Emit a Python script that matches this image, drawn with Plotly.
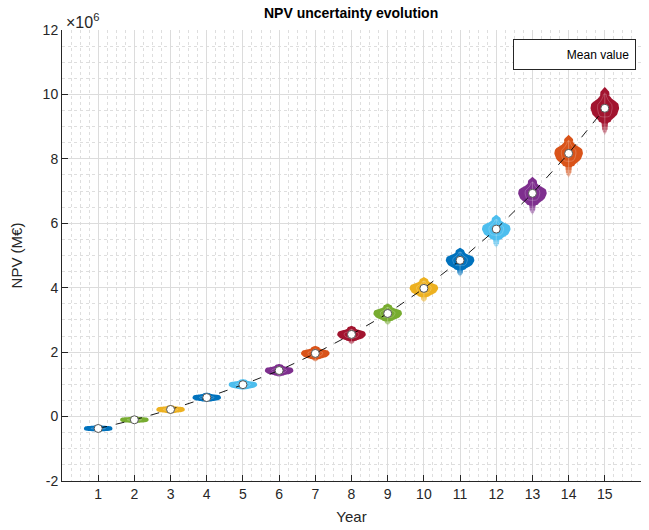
import numpy as np
import plotly.graph_objects as go

# ---- data (NPV in units of 1e6 €) ----
years = list(range(1, 16))
npv_mean = [-0.37, -0.10, 0.22, 0.59, 0.99, 1.43, 1.96, 2.55, 3.20, 3.98,
            4.85, 5.82, 6.93, 8.17, 9.57]
# upper and lower extent of each distribution, measured from the mean
spread_up = [0.05, 0.05, 0.07, 0.09, 0.11, 0.14, 0.17, 0.20, 0.24, 0.28,
             0.32, 0.37, 0.43, 0.49, 0.57]
spread_down = [0.06, 0.07, 0.10, 0.13, 0.17, 0.21, 0.26, 0.31, 0.37, 0.44,
               0.51, 0.59, 0.67, 0.76, 0.84]

# ---- styling ----
violin_colors = ['#0072BD', '#77AC30', '#EDB120', '#0072BD', '#4DBEEE',
                 '#7E2F8E', '#D95319', '#A2142F', '#77AC30', '#EDB120',
                 '#0072BD', '#4DBEEE', '#7E2F8E', '#D95319', '#A2142F']
HALF_WIDTH = 0.34
EDGE_PX = 4
# normalised violin outline: u = relative height (-1 bottom .. +1 top), f = relative half-width
PROF_U = [-1.00, -0.80, -0.55, -0.40, -0.20, 0.00, 0.20, 0.45, 0.65, 0.85, 1.00]
PROF_F = [0.00, 0.22, 0.25, 0.38, 0.85, 1.00, 0.95, 0.45, 0.22, 0.20, 0.00]
TAIL_START = -0.45
FONT = 'Liberation Sans, Arial, sans-serif'
TXT = '#262626'


def outline(u_lo, u_hi, x0, m, up, dn, n=40):
    u = np.linspace(u_lo, u_hi, n)
    f = np.interp(u, PROF_U, PROF_F)
    y = np.where(u >= 0, m + u * up, m + u * dn)
    xs = np.concatenate([x0 + HALF_WIDTH * f, (x0 - HALF_WIDTH * f)[::-1], [x0 + HALF_WIDTH * f[0]]])
    ys = np.concatenate([y, y[::-1], [y[0]]])
    return xs, ys


def hex_rgba(h, a):
    h = h.lstrip('#')
    return 'rgba(%d,%d,%d,%.3f)' % (int(h[0:2], 16), int(h[2:4], 16), int(h[4:6], 16), a)


fig = go.Figure()

for yr, m, up, dn, col in zip(years, npv_mean, spread_up, spread_down, violin_colors):
    # fading lower tail
    cuts = np.linspace(-1.0, TAIL_START, 6)
    for k in range(5):
        xs, ys = outline(cuts[k], cuts[k + 1] + 0.02, yr, m, up, dn, n=8)
        a = 0.12 + 0.88 * (k + 1) / 5
        fig.add_trace(go.Scatter(x=xs, y=ys, mode='lines', fill='toself',
                                 fillcolor=hex_rgba(col, a), line=dict(width=0),
                                 hoverinfo='skip', showlegend=False))
    # main body, with a thick same-colour edge that rounds it off
    xs, ys = outline(TAIL_START, 1.0, yr, m, up, dn)
    fig.add_trace(go.Scatter(x=xs, y=ys, mode='lines', fill='toself',
                             fillcolor=col, line=dict(width=EDGE_PX, color=col, shape='spline'),
                             hoverinfo='skip', showlegend=False))
    # inner outline and whisker in a lighter tint
    xi, yi = outline(-0.3, 0.75, yr, m, up, dn, n=20)
    fig.add_trace(go.Scatter(x=(xi - yr) * 0.6 + yr, y=yi, mode='lines',
                             line=dict(width=0.7, color='rgba(255,255,255,0.3)', shape='spline'),
                             hoverinfo='skip', showlegend=False))
    fig.add_trace(go.Scatter(x=[yr, yr], y=[m - 0.8 * dn, m + 0.85 * up], mode='lines',
                             line=dict(width=0.8, color='rgba(255,255,255,0.35)'),
                             hoverinfo='skip', showlegend=False))

# mean trajectory
fig.add_trace(go.Scatter(x=years, y=npv_mean, mode='lines',
                         line=dict(color='black', width=0.9, dash='dash'),
                         hoverinfo='skip', showlegend=False))
fig.add_trace(go.Scatter(x=years, y=npv_mean, mode='markers',
                         marker=dict(symbol='circle', size=8, color='white',
                                     line=dict(color='#555555', width=1)),
                         showlegend=False, name='Mean value'))
fig.add_trace(go.Scatter(x=[None], y=[None], mode='markers',
                         marker=dict(size=6, color='white'), name='Mean value'))

fig.update_layout(
    width=649, height=530,
    margin=dict(l=62, r=8, t=30, b=49),
    paper_bgcolor='white', plot_bgcolor='white',
    font=dict(family=FONT, size=14, color=TXT),
    title=dict(text='<b>NPV uncertainty evolution</b>', x=0.541, xanchor='center',
               y=0.976, yanchor='middle', yref='container',
               font=dict(size=14, color='black')),
    showlegend=True,
    legend=dict(x=0.991, xanchor='right', y=0.981, yanchor='top',
                bgcolor='white', bordercolor='#262626', borderwidth=1,
                itemwidth=43, font=dict(size=12, color='black'),
                tracegroupgap=0),
)

fig.update_xaxes(
    range=[0, 16], tickmode='array', tickvals=years, ticktext=[str(v) for v in years],
    showline=True, linecolor=TXT, linewidth=1, mirror=False,
    ticks='inside', ticklen=6, tickcolor=TXT,
    showgrid=True, gridcolor='#dcdcdc', gridwidth=1, zeroline=False,
    minor=dict(dtick=0.25, tick0=0, showgrid=True, gridcolor='#dedede',
               griddash='dot', gridwidth=1, ticks=''),
    title=dict(text='Year', font=dict(size=15), standoff=10),
    tickfont=dict(size=14),
)
fig.update_yaxes(
    range=[-2, 12], tickmode='array', tickvals=list(range(-2, 13, 2)),
    ticktext=[str(v) for v in range(-2, 13, 2)],
    showline=True, linecolor=TXT, linewidth=1, mirror=False,
    ticks='inside', ticklen=6, tickcolor=TXT,
    showgrid=True, gridcolor='#dcdcdc', gridwidth=1, zeroline=False,
    minor=dict(dtick=0.5, tick0=0, showgrid=True, gridcolor='#dedede',
               griddash='dot', gridwidth=1, ticks=''),
    title=dict(text='NPV (M€)', font=dict(size=15), standoff=16),
    tickfont=dict(size=14),
)

fig.add_annotation(x=0, xref='paper', xanchor='left', y=1.0, yref='paper', yanchor='bottom',
                   text='×10<sup>6</sup>', showarrow=False,
                   font=dict(size=16, color=TXT), xshift=2, yshift=-3)

fig.write_html('out.html')
